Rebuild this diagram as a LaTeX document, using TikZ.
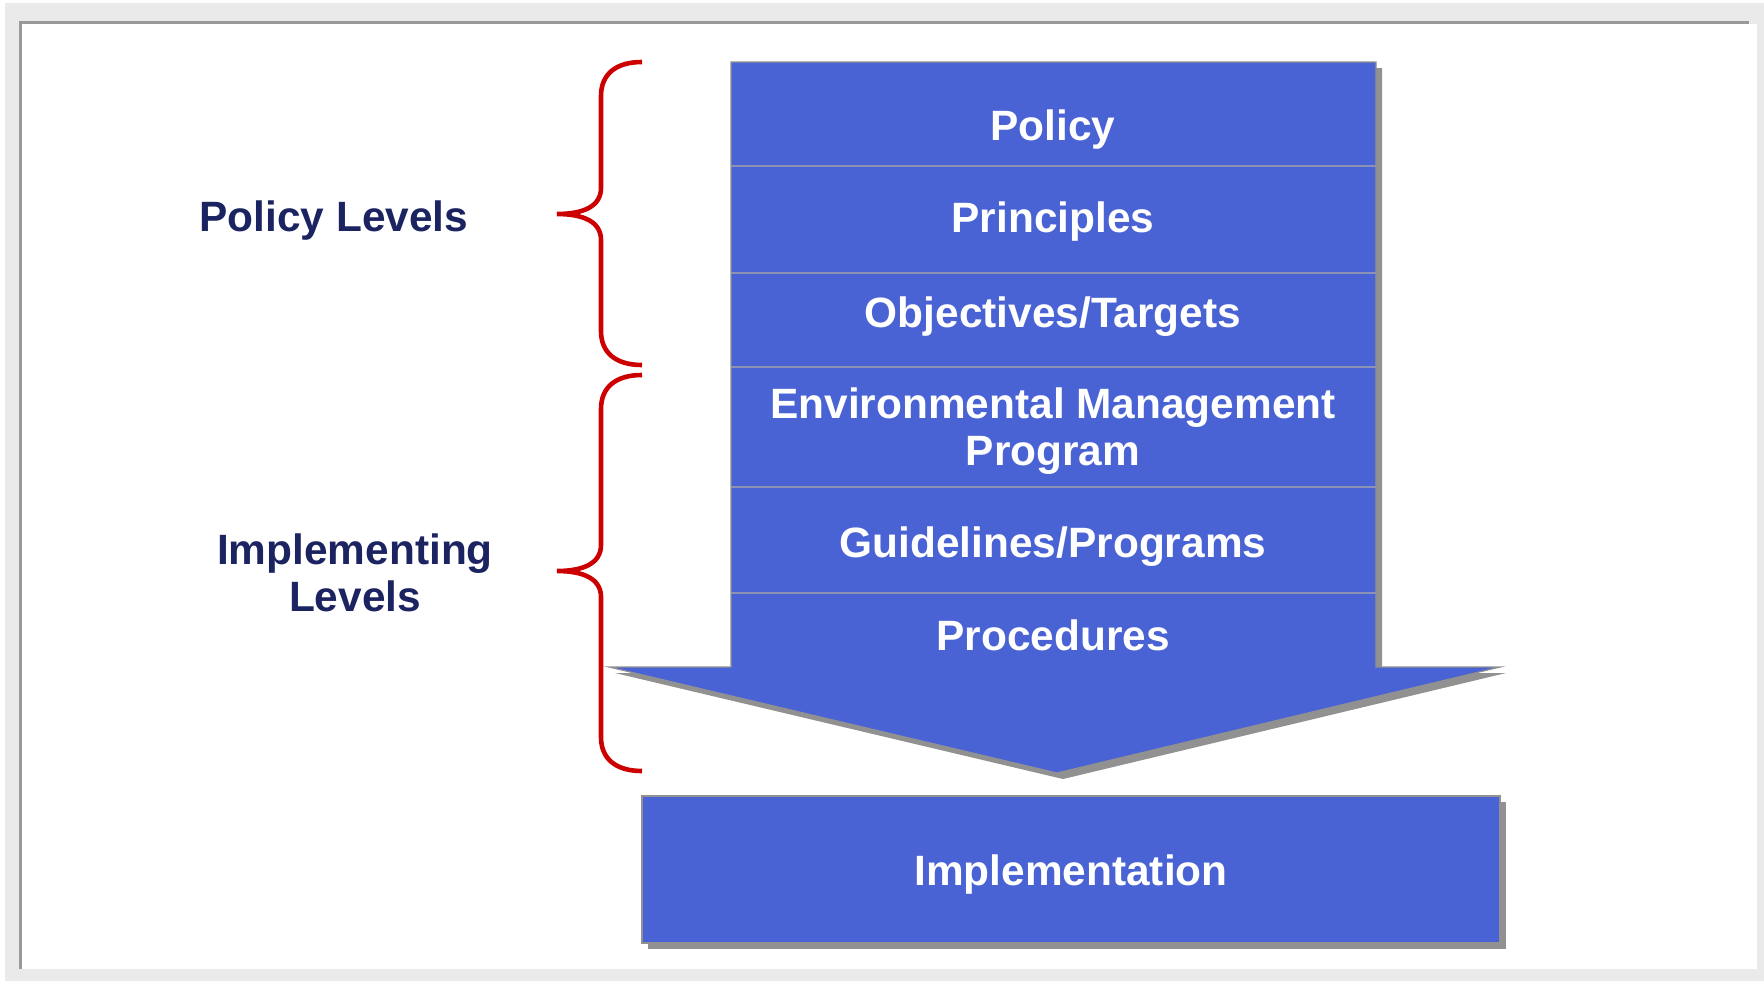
\documentclass[tikz,border=0pt]{standalone}
\usepackage{fontspec}
\setmainfont{Liberation Sans}
\usepackage{tikz}
\definecolor{arrowblue}{RGB}{74,99,212}
\definecolor{navy}{RGB}{27,36,96}
\definecolor{bracered}{RGB}{204,0,0}
\definecolor{shadowgray}{RGB}{145,145,145}
\definecolor{panelgray}{RGB}{234,234,234}
\definecolor{framegray}{RGB}{153,153,153}
\definecolor{dividergray}{RGB}{140,146,180}
\newcommand\levelbrace[3]{%
	\draw[bracket] (642,#1) .. controls (616,#1) and (601,#1+12) .. (601,#1+34) -- (601,#2-26)
		.. controls (601,#2-8) and (584,#2) .. (557,#2) .. controls (584,#2) and (601,#2+8) .. (601,#2+26)
		-- (601,#3-34) .. controls (601,#3-12) and (616,#3) .. (642,#3);}

\begin{document}
\begin{tikzpicture}[x=0.5pt, y=-0.5pt, every node/.style={font=\fontsize{21.2}{23.5}\selectfont\bfseries, align=center, anchor=base}, level/.style={text=white}, side/.style={text=navy}, bracket/.style={draw=bracered, line width=2.3pt}, divider/.style={draw=dividergray, line width=0.6pt}, block/.style={fill=arrowblue, draw=shadowgray, line width=0.6pt}]
	\useasboundingbox (0,0) rectangle (1764,981);
	\fill[panelgray] (5,3) rectangle (1764,981);
	\fill[white] (22,24) rectangle (1757,969);
	\draw[framegray, line width=1.5pt] (20,969) -- (20,22.5) -- (1749,22.5);

	\fill[shadowgray, shift={(6,6)}] (731,62) -- (1376,62) -- (1376,667) -- (1500,667) -- (1057,773) -- (609,667) -- (731,667) -- cycle;
	\draw[block] (731,62) -- (1376,62) -- (1376,667) -- (1500,667) -- (1057,773) -- (609,667) -- (731,667) -- cycle;
	\draw[divider] (731,166) -- (1376,166);
	\draw[divider] (731,273) -- (1376,273);
	\draw[divider] (731,367) -- (1376,367);
	\draw[divider] (731,487) -- (1376,487);
	\draw[divider] (731,593) -- (1376,593);

	\fill[shadowgray] (648,802) rectangle (1506,949);
	\draw[block] (642,796) rectangle (1500,943);

	\node[level] (policy) at (1053,140) {Policy};
	\node[level] (principles) at (1053,232) {Principles};
	\node[level] (objectives) at (1053,327) {Objectives/Targets};
	\node[level] (emp) at (1053,465) {Environmental Management\\Program};
	\node[level] (guidelines) at (1053,557) {Guidelines/Programs};
	\node[level] (procedures) at (1053,650) {Procedures};
	\node[level] (impl) at (1071,885) {Implementation};

	\node[side] (policylevels) at (334,231) {Policy Levels};
	\node[side] (implevels) at (355,611) {Implementing\\Levels};

	\levelbrace{62}{214}{365}
	\levelbrace{375}{571}{771}
\end{tikzpicture}
\end{document}
